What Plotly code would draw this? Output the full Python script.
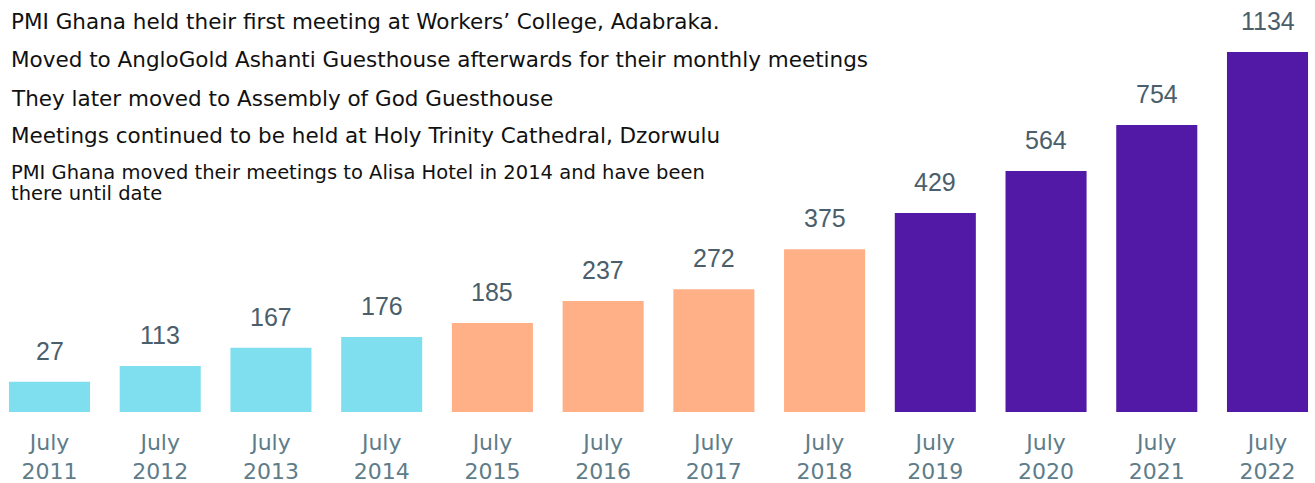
import plotly.graph_objects as go

years = ["2011", "2012", "2013", "2014", "2015", "2016", "2017", "2018", "2019", "2020", "2021", "2022"]
members = [27, 113, 167, 176, 185, 237, 272, 375, 429, 564, 754, 1134]
# bar lengths as drawn in the infographic (not proportional to members), in member units
bar_lengths = [95, 145, 202, 236, 280, 350, 387, 513, 627, 759, 904, 1134]
venue_group = [0, 0, 0, 0, 1, 1, 1, 1, 2, 2, 2, 2]
group_colors = ["#80DFEE", "#FFB087", "#5218A6"]
notes = [
    "PMI Ghana held their first meeting at Workers’ College, Adabraka.",
    "Moved to AngloGold Ashanti Guesthouse afterwards for their monthly meetings",
    "They later moved to Assembly of God Guesthouse",
    "Meetings continued to be held at Holy Trinity Cathedral, Dzorwulu",
    "PMI Ghana moved their meetings to Alisa Hotel in 2014 and have been",
    "there until date",
]
note_y = [22, 60, 98, 135, 172, 193]
note_size = [21.5, 21.5, 21.5, 21.5, 19.5, 19.5]

xs = list(range(len(years)))
fig = go.Figure(
    go.Bar(
        x=xs,
        y=bar_lengths,
        width=0.732,
        marker=dict(color=[group_colors[g] for g in venue_group], line=dict(width=0)),
        hoverinfo="skip",
    )
)

for i, (h, m) in enumerate(zip(bar_lengths, members)):
    fig.add_annotation(
        x=i, y=h, text=str(m), showarrow=False, xanchor="center", yanchor="middle",
        yshift=31, font=dict(family="Liberation Sans, Arial", size=25, color="#4A5E6B"),
    )

for t, yy, fs in zip(notes, note_y, note_size):
    fig.add_annotation(
        x=9 / 1315, y=1 - yy / 412, xref="paper", yref="paper", text=t, showarrow=False,
        xanchor="left", yanchor="middle",
        font=dict(family="DejaVu Sans", size=fs, color="#111111"),
    )

fig.update_layout(
    width=1315, height=483,
    margin=dict(l=0, r=0, t=0, b=71),
    plot_bgcolor="white", paper_bgcolor="white",
    showlegend=False,
    xaxis=dict(
        range=[-0.447, 11.429], tickmode="array", tickvals=xs,
        ticktext=[f"July<br>{y}" for y in years], showgrid=False, zeroline=False,
        showline=False, ticks="", ticklabelstandoff=15,
        tickfont=dict(family="DejaVu Sans", size=22, color="#5E7C89"),
    ),
    yaxis=dict(range=[0, 1297.8], visible=False, showgrid=False, zeroline=False),
)

fig.write_html("out.html", config={"displayModeBar": False},
               post_script="document.body.style.margin='0';")
